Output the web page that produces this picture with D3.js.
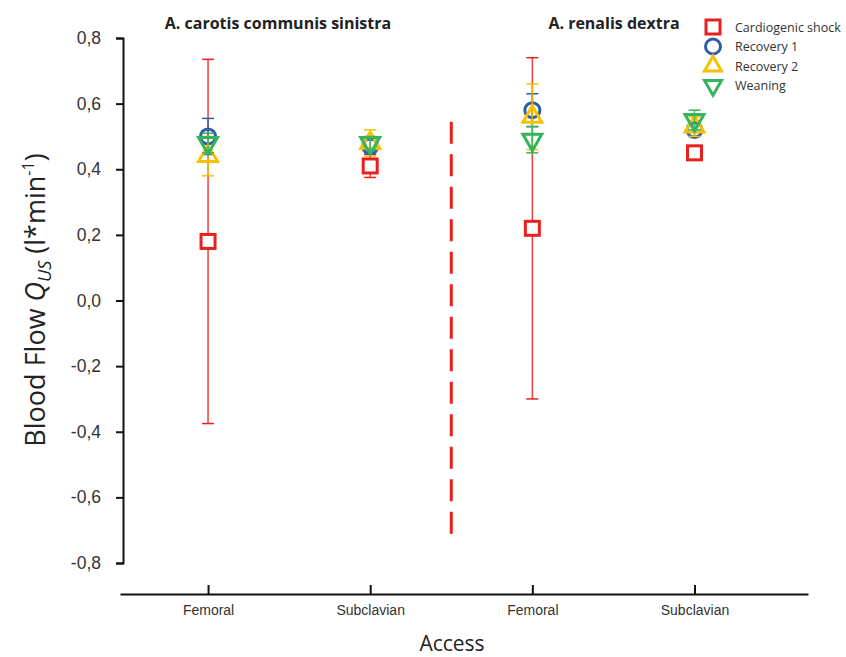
<!DOCTYPE html>
<html>
<head>
<meta charset="utf-8">
<script src="https://cdn.jsdelivr.net/npm/d3@7"></script>
<style>
  body { margin: 0; background: #fff; }
  svg { font-family: "Open Sans", Lato, sans-serif; }
</style>
</head>
<body>
<div id="chart"></div>
<script>
// categories (x positions) and labels
var accessKeys = [0, 1, 2, 3];
var accessLabels = ["Femoral", "Subclavian", "Femoral", "Subclavian"];
var vesselTitles = ["A. carotis communis sinistra", "A. renalis dextra"];

// series means and error half-widths
var seriesNames = ["Cardiogenic shock", "Recovery 1", "Recovery 2", "Weaning"];
var shockMean = [0.18, 0.41, 0.22, 0.45];
var shockErr = [0.555, 0.035, 0.52, 0.02];
var rec1Mean = [0.50, 0.47, 0.58, 0.52];
var rec1Err = [0.055, 0.02, 0.05, 0.02];
var rec2Mean = [0.44, 0.48, 0.56, 0.53];
var rec2Err = [0.06, 0.04, 0.10, 0.03];
var weanMean = [0.48, 0.48, 0.49, 0.55];
var weanErr = [0.03, 0.02, 0.04, 0.03];

var yTicks = [0.8, 0.6, 0.4, 0.2, 0.0, -0.2, -0.4, -0.6, -0.8];

var colours = ["#e8201e", "#2d5ea8", "#f7c100", "#35b35e"];
var shapes = ["square", "circle", "up", "down"];

var series = seriesNames.map(function(n, i) {
  var m = [shockMean, rec1Mean, rec2Mean, weanMean][i];
  var e = [shockErr, rec1Err, rec2Err, weanErr][i];
  return { name: n, colour: colours[i], shape: shapes[i],
    points: accessKeys.map(function(k, j) { return { k: k, v: m[j], e: e[j] }; }) };
});

var width = 846, height = 657;
var svg = d3.select("#chart").append("svg")
  .attr("width", width).attr("height", height);

var x = d3.scaleLinear().domain([-0.543, 3.7]).range([120, 808]);
var y = d3.scaleLinear().domain([-0.8, 0.8]).range([563, 38]);

var locale = d3.formatLocale({decimal: ",", thousands: ".", grouping: [3], currency: ["", ""], minus: "-"});
var fmt = locale.format(".1f");

// y axis
var yAxis = svg.append("g")
  .attr("transform", "translate(123,0)")
  .call(d3.axisLeft(y).tickValues(yTicks).tickFormat(fmt).tickSize(7).tickPadding(15));
yAxis.select(".domain").attr("stroke", "#111").attr("stroke-width", 2);
yAxis.selectAll(".tick line").attr("stroke", "#111").attr("stroke-width", 2);
yAxis.selectAll(".tick text").attr("font-size", 17.5).attr("fill", "#333");

// x axis
var xAxis = svg.append("g")
  .attr("transform", "translate(0,594)")
  .call(d3.axisBottom(x).tickValues(accessKeys)
    .tickFormat(function(d) { return accessLabels[d]; })
    .tickSizeInner(-9).tickSizeOuter(0).tickPadding(11));
xAxis.select(".domain").attr("stroke", "#111").attr("stroke-width", 2);
xAxis.selectAll(".tick line").attr("stroke", "#111").attr("stroke-width", 2);
xAxis.selectAll(".tick text").attr("font-size", 14).attr("fill", "#333");

// axis titles
svg.append("text")
  .attr("x", 452).attr("y", 651)
  .attr("text-anchor", "middle")
  .attr("font-size", 21).attr("fill", "#222")
  .text("Access");

var yl = svg.append("text")
  .attr("transform", "translate(45,300) rotate(-90)")
  .attr("text-anchor", "middle")
  .attr("font-size", 27).attr("fill", "#222");
yl.append("tspan").text("Blood Flow ");
yl.append("tspan").attr("font-style", "italic").text("Q");
yl.append("tspan").attr("font-style", "italic").attr("font-size", 18).attr("dy", 6).text("US");
yl.append("tspan").attr("dy", -6).text(" (l*min");
yl.append("tspan").attr("font-size", 16).attr("dy", -11).text("-1");
yl.append("tspan").attr("dy", 11).text(")");

// vessel titles
svg.append("text").attr("x", 278).attr("y", 29)
  .attr("text-anchor", "middle").attr("font-size", 16).attr("font-weight", "bold").attr("fill", "#222")
  .text(vesselTitles[0]);
svg.append("text").attr("x", 614).attr("y", 29)
  .attr("text-anchor", "middle").attr("font-size", 16).attr("font-weight", "bold").attr("fill", "#222")
  .text(vesselTitles[1]);

// dashed separator between vessels
svg.append("line")
  .attr("x1", x(1.5)).attr("x2", x(1.5))
  .attr("y1", y(0.545)).attr("y2", y(-0.714))
  .attr("stroke", "#e8201e").attr("stroke-width", 3)
  .attr("stroke-dasharray", "22,10.5");

function drawMarker(g, shape, colour, cx, cy, isLegend) {
  if (shape === "square") {
    g.append("rect").attr("x", cx - 7).attr("y", cy - 7).attr("width", 14).attr("height", 14)
      .attr("fill", "#fff").attr("stroke", colour).attr("stroke-width", 3);
  } else if (shape === "circle") {
    g.append("circle").attr("cx", cx).attr("cy", cy).attr("r", 7.5)
      .attr("fill", "none").attr("stroke", colour).attr("stroke-width", 3);
  } else {
    var sym = d3.symbol().type(d3.symbolTriangle).size(isLegend ? 125 : 155);
    g.append("path").attr("d", sym())
      .attr("transform", "translate(" + cx + "," + cy + ")" + (shape === "down" ? " rotate(180)" : ""))
      .attr("fill", "none").attr("stroke", colour).attr("stroke-width", 3)
      .attr("stroke-linejoin", "miter");
  }
}

// series with error bars
series.forEach(function(s) {
  var g = svg.append("g").attr("class", "series");
  s.points.forEach(function(p) {
    var cx = x(p.k);
    g.append("line").attr("x1", cx).attr("x2", cx)
      .attr("y1", y(p.v + p.e)).attr("y2", y(p.v - p.e))
      .attr("stroke", s.colour).attr("stroke-width", 1.5).attr("opacity", 0.85);
    [p.v + p.e, p.v - p.e].forEach(function(c) {
      g.append("line").attr("x1", cx - 6).attr("x2", cx + 6)
        .attr("y1", y(c)).attr("y2", y(c))
        .attr("stroke", s.colour).attr("stroke-width", 1.5);
    });
  });
  s.points.forEach(function(p) {
    drawMarker(g, s.shape, s.colour, x(p.k), y(p.v), false);
  });
});

// legend
var legend = svg.append("g").attr("class", "legend");
series.forEach(function(s, i) {
  var ly = 27 + i * 19.5;
  drawMarker(legend, s.shape, s.colour, 713, ly, true);
  legend.append("text").attr("x", 735).attr("y", ly + 4.5)
    .attr("font-size", 12.5).attr("fill", "#333").text(s.name);
});
</script>
</body>
</html>
